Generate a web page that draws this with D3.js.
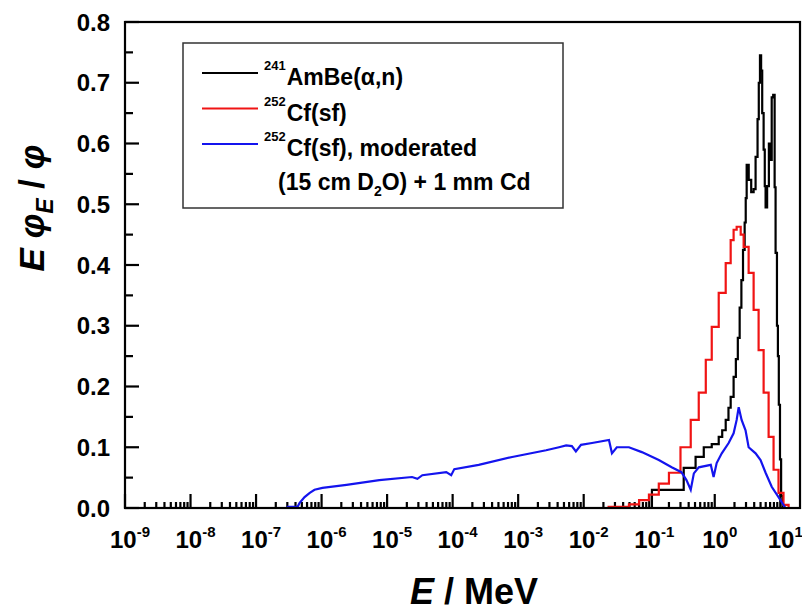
<!DOCTYPE html>
<html>
<head>
<meta charset="utf-8">
<script src="https://d3js.org/d3.v7.min.js"></script>
<style>
  body { margin: 0; background: #fff; }
  svg { display: block; font-family: "Liberation Sans", Arial, sans-serif; font-weight: bold; }
  .curve { fill: none; stroke-width: 2.2; }
</style>
</head>
<body>
<div id="chart"></div>
<script>

/* spectrum data: energy in MeV, E*phiE/phi */

// 241AmBe(a,n)
var amE = [1e-9, 0.11, 0.336, 0.51, 0.68, 0.9, 1.15, 1.3, 1.47, 1.62, 1.75, 1.94, 2.1, 2.25, 2.4, 2.55, 2.7, 2.86, 2.97,
           3.07, 3.3, 3.6, 3.92, 4.2, 4.5, 4.7, 4.9, 5.1, 5.3, 5.57, 5.8, 5.97, 6.3, 6.7, 7.1, 7.4, 7.8, 8.2, 8.48,
           8.9, 9.2, 9.5, 9.9, 10.3, 10.8, 11.5];
var amV = [0, 0.03, 0.066, 0.084, 0.10, 0.105, 0.117, 0.128, 0.145, 0.165, 0.183, 0.216, 0.245, 0.28, 0.33, 0.375, 0.425, 0.47, 0.51,
           0.565, 0.54, 0.52, 0.525, 0.578, 0.64, 0.70, 0.745, 0.72, 0.65, 0.59, 0.53, 0.495, 0.53, 0.60, 0.573, 0.676, 0.68, 0.528, 0.42,
           0.30, 0.25, 0.17, 0.08, 0.02, 0, 0];

// 252Cf(sf)
var cfE = [0.0108, 0.024, 0.049, 0.07, 0.099, 0.14, 0.2, 0.3, 0.43, 0.57, 0.73, 0.9, 1.15, 1.47, 1.75, 1.94, 2.16,
           2.49, 2.76, 3.29, 3.92, 4.67, 5.57, 6.64, 7.9, 9.4, 11.2, 13.4];
var cfV = [0, 0.002, 0.006, 0.013, 0.022, 0.04, 0.058, 0.10, 0.145, 0.19, 0.244, 0.298, 0.354, 0.403, 0.441, 0.458, 0.463,
           0.45, 0.43, 0.387, 0.326, 0.26, 0.19, 0.117, 0.063, 0.025, 0.005, 0];

// 252Cf(sf) moderated, 15 cm D2O + 1 mm Cd
var modE = [2.93e-7, 4.3e-7, 4.6e-7, 5.5e-7, 6.6e-7, 7.8e-7, 1.03e-6, 2.4e-6, 7.6e-6, 2.4e-5, 2.9e-5, 3.45e-5, 8e-5, 9.5e-5,
            1.06e-4, 2.5e-4, 8.1e-4, 2.67e-3, 4.2e-3, 5.4e-3, 6.6e-3, 7.6e-3, 9.1e-3, 0.0134, 0.0243, 0.027, 0.032, 0.049,
            0.077, 0.14, 0.22, 0.31, 0.37, 0.43, 0.48, 0.57, 0.87, 0.96, 1.07, 1.28, 1.63, 1.94, 2.16, 2.32, 2.57, 2.95,
            3.29, 4.2, 5.0, 5.97, 7.4, 9.4, 12];
var modV = [0.002, 0.002, 0.008, 0.018, 0.025, 0.03, 0.033, 0.038, 0.046, 0.051, 0.048, 0.054, 0.059, 0.054,
            0.064, 0.071, 0.084, 0.095, 0.100, 0.103, 0.102, 0.093, 0.104, 0.107, 0.112, 0.09, 0.10, 0.10,
            0.092, 0.079, 0.067, 0.059, 0.046, 0.03, 0.057, 0.067, 0.071, 0.051, 0.074, 0.09, 0.107, 0.123, 0.145, 0.166, 0.145, 0.128,
            0.10, 0.09, 0.079, 0.058, 0.035, 0.018, 0];

// ticks
var xTickExps = [-9, -8, -7, -6, -5, -4, -3, -2, -1, 0, 1];
var yTicks = [0, 0.1, 0.2, 0.3, 0.4, 0.5, 0.6, 0.7, 0.8];
var yTickLabels = ["0.0", "0.1", "0.2", "0.3", "0.4", "0.5", "0.6", "0.7", "0.8"];
var yMinorTicks = [0.05, 0.15, 0.25, 0.35, 0.45, 0.55, 0.65, 0.75];

// legend
var legendNames = ["AmBe(\u03b1,n)", "Cf(sf)", "Cf(sf), moderated"];
var legendIsotopes = ["241", "252", "252"];
var legendColors = ["#000000", "#f01414", "#1414ee"];


// set the dimensions and margins of the graph
var margin = {top: 22, right: 2, bottom: 104, left: 125},
    width = 802 - margin.left - margin.right,
    height = 612 - margin.top - margin.bottom;

// set the ranges
var x = d3.scaleLog().domain([1e-9, 20]).range([0, width]);
var y = d3.scaleLinear().domain([0, 0.8]).range([height, 0]);

var svg = d3.select("#chart").append("svg")
    .attr("width", 802)
    .attr("height", 612);

var g = svg.append("g")
    .attr("transform", "translate(" + margin.left + "," + margin.top + ")");

// minor ticks on the log axis: 2..9 in every decade
var xMinorTicks = [];
xTickExps.forEach(function(e) {
  for (var m = 2; m <= 9; m++) {
    var v = m * Math.pow(10, e);
    if (v < 20) xMinorTicks.push(v);
  }
});
var xMajorTicks = xTickExps.map(function(e) { return Math.pow(10, e); });

// tick marks, all pointing into the plot
var ticks = g.append("g")
    .attr("stroke", "#000")
    .attr("stroke-width", 2.2);

ticks.selectAll(".xminor")
    .data(xMinorTicks)
  .enter().append("line")
    .attr("x1", function(d) { return x(d); })
    .attr("x2", function(d) { return x(d); })
    .attr("y1", height)
    .attr("y2", height - 6);

ticks.selectAll(".xmajor")
    .data(xMajorTicks)
  .enter().append("line")
    .attr("x1", function(d) { return x(d); })
    .attr("x2", function(d) { return x(d); })
    .attr("y1", height)
    .attr("y2", height - 14);

ticks.selectAll(".yminor")
    .data(yMinorTicks)
  .enter().append("line")
    .attr("x1", 0)
    .attr("x2", 8)
    .attr("y1", function(d) { return y(d); })
    .attr("y2", function(d) { return y(d); });

ticks.selectAll(".ymajor")
    .data(yTicks)
  .enter().append("line")
    .attr("x1", 0)
    .attr("x2", 14)
    .attr("y1", function(d) { return y(d); })
    .attr("y2", function(d) { return y(d); });

// x tick labels as 10 with superscript
xTickExps.forEach(function(e) {
  var t = g.append("text")
      .attr("x", x(Math.pow(10, e)) + 5)
      .attr("y", height + 40)
      .attr("text-anchor", "middle")
      .attr("font-size", 24);
  t.append("tspan").text("10");
  t.append("tspan").attr("dy", -11).attr("font-size", 15).text(e);
});

// y tick labels
g.selectAll(".ylab")
    .data(yTicks)
  .enter().append("text")
    .attr("x", -15)
    .attr("y", function(d) { return y(d); })
    .attr("dy", "0.36em")
    .attr("text-anchor", "end")
    .attr("font-size", 24)
    .text(function(d, i) { return yTickLabels[i]; });

// the curves
function series(xs, ys) {
  return xs.map(function(d, i) { return {e: d, v: ys[i]}; });
}

var stepLine = d3.line()
    .x(function(d) { return x(d.e); })
    .y(function(d) { return y(d.v); })
    .curve(d3.curveStepAfter);

var plainLine = d3.line()
    .x(function(d) { return x(d.e); })
    .y(function(d) { return y(d.v); });

g.append("path")
    .datum(series(amE, amV))
    .attr("class", "curve")
    .attr("stroke", legendColors[0])
    .attr("d", stepLine);

g.append("path")
    .datum(series(cfE, cfV))
    .attr("class", "curve")
    .attr("stroke", legendColors[1])
    .attr("d", stepLine);

g.append("path")
    .datum(series(modE, modV))
    .attr("class", "curve")
    .attr("stroke", legendColors[2])
    .attr("d", plainLine);

// frame
g.append("rect")
    .attr("width", width)
    .attr("height", height)
    .attr("fill", "none")
    .attr("stroke", "#000")
    .attr("stroke-width", 2.2);

// legend
var legend = svg.append("g");
legend.append("rect")
    .attr("x", 183)
    .attr("y", 43)
    .attr("width", 380)
    .attr("height", 165)
    .attr("fill", "#fff")
    .attr("stroke", "#333")
    .attr("stroke-width", 1.5);

legendNames.forEach(function(name, i) {
  var ly = 73 + i * 35.5;
  legend.append("line")
      .attr("x1", 202).attr("x2", 258)
      .attr("y1", ly).attr("y2", ly)
      .attr("stroke", legendColors[i])
      .attr("stroke-width", 2.2);
  var t = legend.append("text")
      .attr("x", 264)
      .attr("y", ly + 12)
      .attr("font-size", 23);
  t.append("tspan").attr("font-size", 13).attr("dy", -15).text(legendIsotopes[i]);
  t.append("tspan").attr("dy", 15).attr("dx", 1).text(name);
});

var l4 = legend.append("text")
    .attr("x", 278)
    .attr("y", 190)
    .attr("font-size", 23);
l4.append("tspan").text("(15 cm D");
l4.append("tspan").attr("font-size", 14).attr("dy", 6).text("2");
l4.append("tspan").attr("dy", -6).text("O) + 1 mm Cd");

// axis titles
var xt = svg.append("text")
    .attr("x", 474)
    .attr("y", 604)
    .attr("text-anchor", "middle")
    .attr("font-size", 36);
xt.append("tspan").attr("font-style", "italic").text("E");
xt.append("tspan").text(" / MeV");

var yt = svg.append("text")
    .attr("transform", "translate(44,208) rotate(-90)")
    .attr("text-anchor", "middle")
    .attr("font-size", 35);
yt.append("tspan").attr("font-style", "italic").text("E \u03c6");
yt.append("tspan").attr("font-style", "italic").attr("font-size", 23).attr("dy", 9).text("E");
yt.append("tspan").attr("dy", -9).text(" / ");
yt.append("tspan").attr("font-style", "italic").text("\u03c6");

</script>
</body>
</html>
